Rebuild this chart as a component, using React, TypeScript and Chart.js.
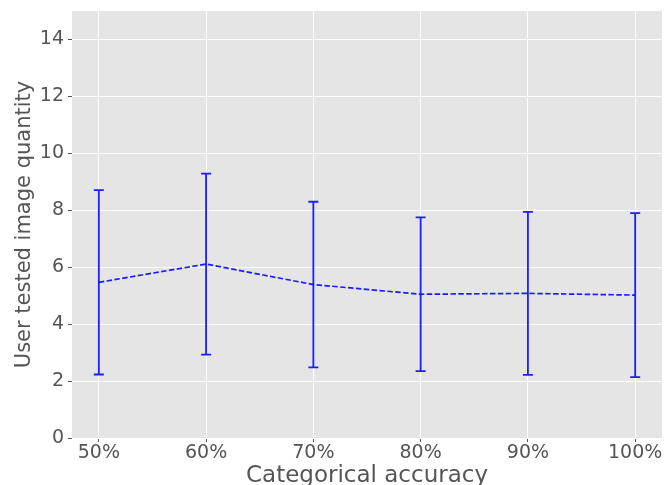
import React, { useEffect, useRef } from "react";
import { Chart, registerables } from "chart.js";

Chart.register(...registerables);

const categories = ["50%", "60%", "70%", "80%", "90%", "100%"];
const means = [5.47, 6.11, 5.39, 5.05, 5.08, 5.02];
const errors = [3.24, 3.18, 2.91, 2.70, 2.86, 2.88];
const yTicks = [0, 2, 4, 6, 8, 10, 12, 14];

const FONT = "'DejaVu Sans', sans-serif";
const TEXT = "#555555";
const BLUE = "rgba(0,0,255,0.88)";

const bgPlugin = {
  id: "bg",
  beforeDraw(chart: any) {
    const { ctx, chartArea } = chart;
    ctx.save();
    ctx.fillStyle = "#E5E5E5";
    ctx.fillRect(chartArea.left, chartArea.top, chartArea.right - chartArea.left, chartArea.bottom - chartArea.top);
    ctx.restore();
  },
};

const errPlugin = {
  id: "errbars",
  afterDatasetsDraw(chart: any) {
    const { ctx, scales } = chart;
    const xs = scales.x;
    const ys = scales.y;
    ctx.save();
    ctx.strokeStyle = BLUE;
    ctx.lineWidth = 1.8;
    means.forEach((m, i) => {
      const x = xs.getPixelForValue(i);
      const yt = ys.getPixelForValue(m + errors[i]);
      const yb = ys.getPixelForValue(m - errors[i]);
      ctx.beginPath();
      ctx.moveTo(x, yt);
      ctx.lineTo(x, yb);
      ctx.moveTo(x - 5, yt);
      ctx.lineTo(x + 5, yt);
      ctx.moveTo(x - 5, yb);
      ctx.lineTo(x + 5, yb);
      ctx.stroke();
    });
    ctx.restore();
  },
};

export default function App() {
  const ref = useRef<HTMLCanvasElement>(null);
  useEffect(() => {
    const chart = new Chart(ref.current as HTMLCanvasElement, {
      type: "line",
      data: {
        datasets: [
          {
            data: means.map((m, i) => ({ x: i, y: m })),
            borderColor: BLUE,
            borderWidth: 1.7,
            borderDash: [5.5, 2.4],
            pointRadius: 0,
            fill: false,
            tension: 0,
          },
        ],
      },
      options: {
        animation: false,
        responsive: false,
        maintainAspectRatio: false,
        layout: { padding: { top: 11, right: 2, left: 0, bottom: 0 } },
        plugins: { legend: { display: false }, tooltip: { enabled: false } },
        scales: {
          x: {
            type: "linear",
            min: -0.25,
            max: 5.25,
            afterBuildTicks: (s: any) => {
              s.ticks = categories.map((_, i) => ({ value: i }));
            },
            afterFit: (s: any) => {
              s.height = 47;
              s.paddingLeft = 0;
              s.paddingRight = 0;
            },
            border: { display: false },
            grid: { color: "#FFFFFF", lineWidth: 1, tickColor: TEXT, tickLength: 4 },
            ticks: {
              autoSkip: false,
              maxRotation: 0,
              padding: 0,
              color: TEXT,
              font: { family: FONT, size: 19 },
              callback: (v: any) => categories[Math.round(v)] ?? "",
            },
            title: {
              display: true,
              text: "Categorical accuracy",
              color: TEXT,
              font: { family: FONT, size: 23 },
              padding: { top: 0, bottom: -5 },
            },
          },
          y: {
            type: "linear",
            min: 0,
            max: 15,
            afterBuildTicks: (s: any) => {
              s.ticks = yTicks.map((v) => ({ value: v }));
            },
            afterFit: (s: any) => {
              s.width = 72;
              s.paddingTop = 0;
              s.paddingBottom = 0;
            },
            border: { display: false },
            grid: { color: "#FFFFFF", lineWidth: 1, tickColor: TEXT, tickLength: 4 },
            ticks: {
              padding: 4,
              color: TEXT,
              font: { family: FONT, size: 19 },
            },
            title: {
              display: true,
              text: "User tested image quantity",
              color: TEXT,
              font: { family: FONT, size: 21 },
              padding: { top: 12, bottom: 0 },
            },
          },
        },
      },
      plugins: [bgPlugin, errPlugin],
    } as any);
    return () => chart.destroy();
  }, []);
  return (
    <div style={{ position: "fixed", left: 0, top: 0, width: 664, height: 485, background: "#fff" }}>
      <canvas ref={ref} width={664} height={485} style={{ width: 664, height: 485 }} />
    </div>
  );
}
